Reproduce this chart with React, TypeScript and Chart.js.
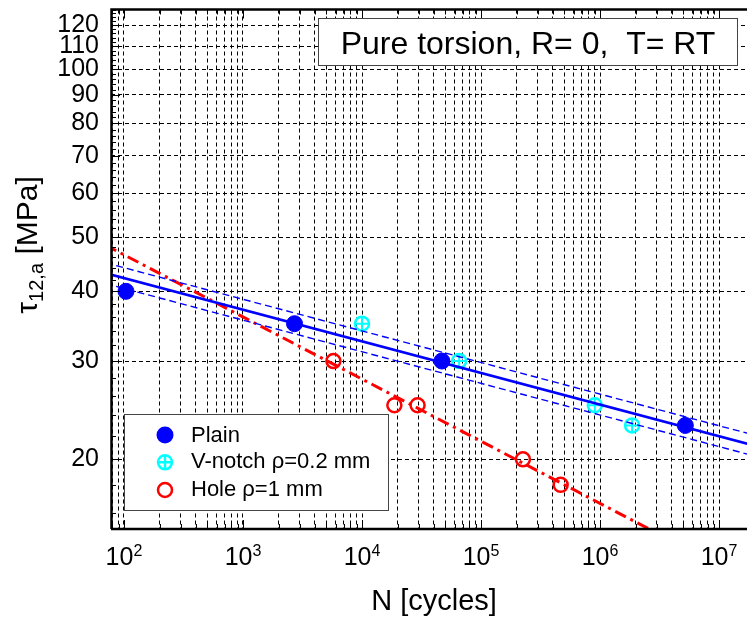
import React, { useEffect, useRef } from 'react';
import { Chart, registerables } from 'chart.js';

Chart.register(...registerables);

// ---- data ----
const plainN = [104, 2710, 46900, 5210000];
const plainTau = [40, 35, 30, 23];
const vNotchN = [10000, 65500, 904000, 1860000];
const vNotchTau = [35, 30, 25, 23];
const holeN = [5750, 18700, 29300, 225000, 467000];
const holeTau = [30, 25, 25, 20, 18];

// fitted curves (end points)
const plainFitN = [70, 25000000];
const plainFitTau = [43.1, 20.88];
const plainUpperTau = [45.0, 21.81];
const plainLowerTau = [41.3, 20.01];
const holeFitN = [70, 10000000];
const holeFitTau = [48.4, 12.9];

// ticks
const xDecadeExponents = [2, 3, 4, 5, 6, 7];
const yTickValues = [20, 30, 40, 50, 60, 70, 80, 90, 100, 110, 120];
const legendLabels = ['Plain', 'V-notch \u03c1=0.2 mm', 'Hole \u03c1=1 mm'];
const titleText = 'Pure torsion, R= 0,  T= RT';
const xTitle = 'N [cycles]';

const X_MIN = 77.8;
const X_MAX = 2.23e7;
const Y_MIN = 15;
const Y_MAX = 128;

const FONT = '"Liberation Sans", Arial, Helvetica, sans-serif';
const BLUE = '#0000ff';
const CYAN = '#00ffff';
const RED = '#ff0000';

const xGridValues: number[] = [];
for (let e = 1; e <= 7; e++) {
  for (let k = 1; k <= 9; k++) {
    const v = k * Math.pow(10, e);
    if (v >= X_MIN && v <= X_MAX) xGridValues.push(v);
  }
}
const yMinorValues: number[] = [];
for (let v = 16; v <= Y_MAX; v += 2) yMinorValues.push(v);

const pts = (xs: number[], ys: number[]) => xs.map((x, i) => ({ x, y: ys[i] }));
const isDecade = (v: number) => Math.abs(Math.log10(v) - Math.round(Math.log10(v))) < 1e-9;

const overlay = {
  id: 'overlay',
  afterDraw(chart: any) {
    const { ctx, chartArea: a } = chart;
    const xs = chart.scales.x;
    const ys = chart.scales.y;
    ctx.save();
    ctx.setLineDash([]);
    ctx.strokeStyle = '#000';
    ctx.lineWidth = 1;
    ctx.beginPath();
    for (const v of yMinorValues) {
      const y = Math.round(ys.getPixelForValue(v)) + 0.5;
      const len = yTickValues.includes(v) ? 9 : 5;
      ctx.moveTo(a.left, y);
      ctx.lineTo(a.left + len, y);
    }
    for (const v of xGridValues) {
      const x = Math.round(xs.getPixelForValue(v)) + 0.5;
      const len = isDecade(v) ? 9 : 5;
      ctx.moveTo(x, a.bottom);
      ctx.lineTo(x, a.bottom - len);
      ctx.moveTo(x, a.top);
      ctx.lineTo(x, a.top + len);
    }
    ctx.stroke();

    // frame
    ctx.lineWidth = 2.5;
    ctx.beginPath();
    ctx.moveTo(a.left + 0.5, a.bottom);
    ctx.lineTo(a.left + 0.5, a.top);
    ctx.lineTo(a.right, a.top);
    ctx.moveTo(a.left, a.bottom);
    ctx.lineTo(a.right, a.bottom);
    ctx.stroke();

    // x tick labels with exponents
    ctx.fillStyle = '#000';
    ctx.textBaseline = 'alphabetic';
    ctx.textAlign = 'left';
    for (const e of xDecadeExponents) {
      const x = xs.getPixelForValue(Math.pow(10, e));
      ctx.font = `25px ${FONT}`;
      const w1 = ctx.measureText('10').width;
      ctx.font = `16px ${FONT}`;
      const w2 = ctx.measureText(String(e)).width;
      const x0 = x - (w1 + w2) / 2;
      ctx.font = `25px ${FONT}`;
      ctx.fillText('10', x0, a.bottom + 36);
      ctx.font = `16px ${FONT}`;
      ctx.fillText(String(e), x0 + w1, a.bottom + 27);
    }

    // x title
    ctx.font = `29px ${FONT}`;
    ctx.textAlign = 'center';
    ctx.fillText(xTitle, 434, 610);

    // y title (rotated)
    ctx.save();
    ctx.translate(37, 245);
    ctx.rotate(-Math.PI / 2);
    ctx.textAlign = 'left';
    ctx.font = `30px ${FONT}`;
    const wt = ctx.measureText('\u03c4').width;
    const wr = ctx.measureText(' [MPa]').width;
    ctx.font = `20px ${FONT}`;
    const ws = ctx.measureText('12,a').width;
    let tx = -(wt + ws + wr) / 2;
    ctx.font = `30px ${FONT}`;
    ctx.fillText('\u03c4', tx, 0);
    tx += wt;
    ctx.font = `20px ${FONT}`;
    ctx.fillText('12,a', tx, 6);
    tx += ws;
    ctx.font = `30px ${FONT}`;
    ctx.fillText(' [MPa]', tx, 0);
    ctx.restore();

    // title box
    ctx.fillStyle = '#fff';
    ctx.fillRect(318, 18, 419, 47);
    ctx.strokeStyle = '#444';
    ctx.lineWidth = 1;
    ctx.strokeRect(318.5, 18.5, 419, 47);
    ctx.fillStyle = '#000';
    ctx.font = `32px ${FONT}`;
    ctx.textAlign = 'center';
    ctx.fillText(titleText, 528, 53.5);

    // legend box
    ctx.fillStyle = '#fff';
    ctx.fillRect(124, 414, 264, 96);
    ctx.strokeStyle = '#444';
    ctx.lineWidth = 1;
    ctx.strokeRect(124.5, 414.5, 264, 96);
    const rowY = [435, 462.3, 490];
    const baseY = [441.7, 468.3, 496];
    // Plain marker
    ctx.fillStyle = BLUE;
    ctx.beginPath();
    ctx.arc(165, rowY[0], 8.5, 0, Math.PI * 2);
    ctx.fill();
    // V-notch marker
    ctx.strokeStyle = CYAN;
    ctx.lineWidth = 2.5;
    ctx.beginPath();
    ctx.arc(165, rowY[1], 7, 0, Math.PI * 2);
    ctx.moveTo(165 - 7, rowY[1]);
    ctx.lineTo(165 + 7, rowY[1]);
    ctx.moveTo(165, rowY[1] - 7);
    ctx.lineTo(165, rowY[1] + 7);
    ctx.stroke();
    // Hole marker
    ctx.strokeStyle = RED;
    ctx.beginPath();
    ctx.arc(165, rowY[2], 7, 0, Math.PI * 2);
    ctx.stroke();
    ctx.fillStyle = '#000';
    ctx.font = `22px ${FONT}`;
    ctx.textAlign = 'left';
    legendLabels.forEach((t, i) => ctx.fillText(t, 191, baseY[i]));

    ctx.restore();
  },
};

export default function App() {
  const ref = useRef<HTMLCanvasElement>(null);
  useEffect(() => {
    const chart = new Chart(ref.current as HTMLCanvasElement, {
      type: 'scatter',
      data: {
        datasets: [
          {
            label: 'Plain fit',
            data: pts(plainFitN, plainFitTau),
            showLine: true,
            borderColor: BLUE,
            borderWidth: 2.6,
            pointRadius: 0,
            order: 0,
            clip: 0,
          },
          {
            label: 'Plain upper',
            data: pts(plainFitN, plainUpperTau),
            showLine: true,
            borderColor: BLUE,
            borderWidth: 1.4,
            borderDash: [7, 4],
            pointRadius: 0,
            order: 0,
            clip: 0,
          },
          {
            label: 'Plain lower',
            data: pts(plainFitN, plainLowerTau),
            showLine: true,
            borderColor: BLUE,
            borderWidth: 1.4,
            borderDash: [7, 4],
            pointRadius: 0,
            order: 0,
            clip: 0,
          },
          {
            label: 'Hole fit',
            data: pts(holeFitN, holeFitTau),
            showLine: true,
            borderColor: RED,
            borderWidth: 3,
            borderDash: [12, 5, 3, 5],
            pointRadius: 0,
            order: 0,
            clip: 0,
          },
          {
            label: 'Hole',
            data: pts(holeN, holeTau),
            pointStyle: 'circle',
            pointRadius: 7,
            pointBorderWidth: 2.5,
            borderColor: RED,
            backgroundColor: 'rgba(0,0,0,0)',
            order: 1,
          },
          {
            label: 'V-notch',
            data: pts(vNotchN, vNotchTau),
            pointStyle: 'circle',
            pointRadius: 7,
            pointBorderWidth: 2.5,
            borderColor: CYAN,
            backgroundColor: 'rgba(0,0,0,0)',
            order: 2,
          },
          {
            label: 'V-notch cross',
            data: pts(vNotchN, vNotchTau),
            pointStyle: 'cross',
            pointRadius: 7,
            pointBorderWidth: 2,
            borderColor: CYAN,
            order: 2,
          },
          {
            label: 'Plain',
            data: pts(plainN, plainTau),
            pointStyle: 'circle',
            pointRadius: 8,
            pointBorderWidth: 1,
            borderColor: BLUE,
            backgroundColor: BLUE,
            order: 3,
          },
        ],
      },
      options: {
        animation: false,
        responsive: false,
        devicePixelRatio: 1,
        events: [],
        layout: { padding: { left: 0, right: 8, top: 9, bottom: 0 } },
        plugins: { legend: { display: false }, tooltip: { enabled: false } },
        scales: {
          x: {
            type: 'logarithmic',
            position: 'bottom',
            min: X_MIN,
            max: X_MAX,
            afterBuildTicks: (s: any) => {
              s.ticks = xGridValues.map((v) => ({ value: v }));
            },
            afterFit: (s: any) => {
              s.height = 90;
              s.paddingLeft = 0;
              s.paddingRight = 0;
            },
            ticks: { display: false },
            grid: { color: '#000', lineWidth: 1, drawTicks: false },
            border: { display: false, dash: [4, 3] },
          },
          y: {
            type: 'logarithmic',
            position: 'left',
            min: Y_MIN,
            max: Y_MAX,
            afterBuildTicks: (s: any) => {
              s.ticks = yTickValues.map((v) => ({ value: v }));
            },
            afterFit: (s: any) => {
              s.width = 111;
              s.paddingTop = 0;
              s.paddingBottom = 0;
            },
            ticks: {
              callback: (v: any) => String(v),
              font: { family: FONT, size: 25 },
              color: '#000',
              padding: 12,
              autoSkip: false,
            },
            grid: { color: '#000', lineWidth: 1, drawTicks: false },
            border: { display: false, dash: [4, 3] },
          },
        },
      },
      plugins: [overlay],
    } as any);
    return () => chart.destroy();
  }, []);
  return (
    <div
      style={{
        position: 'absolute',
        left: 0,
        top: 0,
        width: 747,
        height: 619,
        overflow: 'hidden',
        background: '#fff',
      }}
    >
      <canvas ref={ref} width={770} height={619} style={{ display: 'block', width: 770, height: 619 }} />
    </div>
  );
}
